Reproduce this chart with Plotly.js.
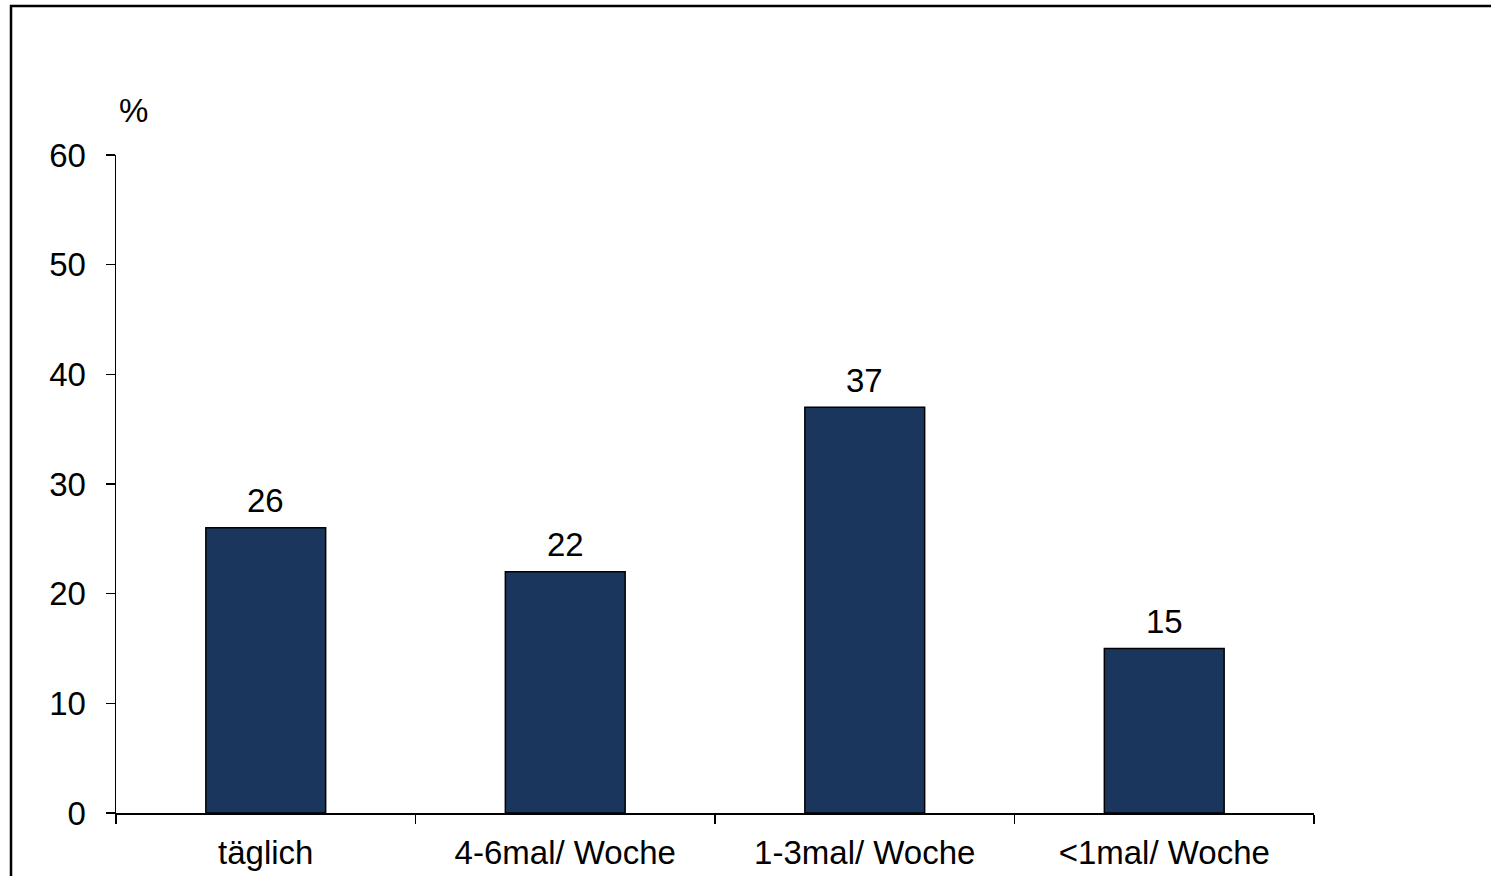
<!DOCTYPE html>
<html>
<head>
<meta charset="utf-8">
<script src="https://cdn.plot.ly/plotly-3.0.1.min.js"></script>
<style>
html,body{margin:0;padding:0;background:#fff;}
#chart{width:1491px;height:876px;}
</style>
</head>
<body>
<div id="chart"></div>
<script>
const categories = ["täglich", "4-6mal/ Woche", "1-3mal/ Woche", "<1mal/ Woche"];
const values = [26, 22, 37, 15];
const yTicks = [0, 10, 20, 30, 40, 50, 60];
const unitLabel = "%";

const L = 116, R = 177, T = 155, B = 63;
const W = 1491, H = 876;
const pw = W - L - R, ph = H - T - B;
const px = x => (x - L) / pw;
const py = y => (H - B - y) / ph;

const font = {family: "Liberation Sans, Arial, sans-serif", size: 33, color: "#000"};

const valueLabels = categories.map((c, i) => ({
  x: c, y: values[i], xref: "x", yref: "y",
  text: String(values[i]), showarrow: false,
  xanchor: "center", yanchor: "middle", yshift: 27, font: font
}));

Plotly.newPlot("chart", [{
  type: "bar",
  x: categories,
  y: values,
  marker: {color: "#1b365d", line: {color: "#000", width: 1.5}},
  hoverinfo: "none"
}], {
  width: W, height: H,
  margin: {l: L, r: R, t: T, b: B, pad: 0},
  paper_bgcolor: "#fff", plot_bgcolor: "#fff",
  font: font,
  showlegend: false,
  bargap: 0.6,
  xaxis: {
    type: "category",
    showline: true, linecolor: "#000", linewidth: 1.5,
    ticks: "outside", tickson: "boundaries", ticklen: 9, tickcolor: "#000", tickwidth: 1.5,
    showgrid: false, zeroline: false,
    tickfont: font, ticklabelstandoff: 10
  },
  yaxis: {
    range: [0, 60], tickvals: yTicks,
    showline: true, linecolor: "#000", linewidth: 1.5,
    ticks: "outside", ticklen: 9, tickcolor: "#000", tickwidth: 1.5,
    showgrid: false, zeroline: false,
    tickfont: font, ticklabelstandoff: 13
  },
  annotations: valueLabels.concat([{
    text: unitLabel, xref: "paper", yref: "paper",
    x: px(133), y: py(111), xanchor: "center", yanchor: "middle",
    showarrow: false, font: font
  }]),
  shapes: [{
    type: "rect", xref: "paper", yref: "paper",
    x0: px(11), x1: px(1520), y0: py(900), y1: py(6),
    line: {color: "#000", width: 2.5}, fillcolor: "rgba(0,0,0,0)"
  }]
}, {displayModeBar: false, staticPlot: true});
</script>
</body>
</html>
